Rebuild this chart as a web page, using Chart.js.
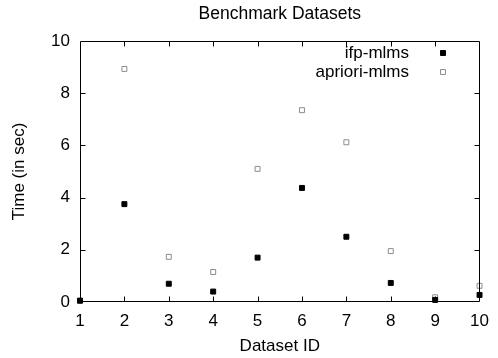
<!DOCTYPE html>
<html>
<head>
<meta charset="utf-8">
<script src="https://cdn.jsdelivr.net/npm/chart.js@4/dist/chart.umd.min.js"></script>
<style>
  html, body { margin: 0; padding: 0; background: #fff; }
  #wrap { width: 498px; height: 358px; }
</style>
</head>
<body>
<div id="wrap"><canvas id="c" width="498" height="358"></canvas></div>
<script>
const datasetIds = [1, 2, 3, 4, 5, 6, 7, 8, 9, 10];
const ifpMlms = [0.05, 3.75, 0.7, 0.4, 1.7, 4.37, 2.5, 0.73, 0.08, 0.27];
const aprioriMlms = [0.05, 8.93, 1.73, 1.15, 5.1, 7.35, 6.12, 1.95, 0.18, 0.62];
const xTicks = [1, 2, 3, 4, 5, 6, 7, 8, 9, 10];
const yTicks = [0, 2, 4, 6, 8, 10];
const titleText = 'Benchmark Datasets';
const xTitle = 'Dataset ID';
const yTitle = 'Time (in sec)';

const FONT = '"Liberation Sans", Arial, Helvetica, sans-serif';

function toPoints(ys) { return datasetIds.map((x, i) => ({ x: x, y: ys[i] })); }

const framePlugin = {
  id: 'frame',
  afterDraw(chart) {
    const ctx = chart.ctx;
    const a = chart.chartArea;
    const xs = chart.scales.x, ys = chart.scales.y;
    ctx.save();
    // title
    ctx.fillStyle = '#000';
    ctx.font = '17.5px ' + FONT;
    ctx.textAlign = 'center';
    ctx.textBaseline = 'middle';
    ctx.fillText(titleText, (a.left + a.right) / 2, 14);
    // frame
    const L = Math.round(a.left) + 0.5, T = Math.round(a.top) + 0.5;
    const R = Math.round(a.right) - 0.5, B = Math.round(a.bottom) - 0.5;
    ctx.strokeStyle = '#000';
    ctx.lineWidth = 1;
    ctx.beginPath();
    ctx.rect(L, T, R - L, B - T);
    ctx.stroke();
    // inner ticks (skip those lying on the frame)
    const tl = 5;
    ctx.beginPath();
    xTicks.forEach(v => {
      if (v === xs.min || v === xs.max) return;
      const px = Math.round(xs.getPixelForValue(v)) + 0.5;
      ctx.moveTo(px, B); ctx.lineTo(px, B - tl);
      ctx.moveTo(px, T); ctx.lineTo(px, T + tl);
    });
    yTicks.forEach(v => {
      if (v === ys.min || v === ys.max) return;
      const py = Math.round(ys.getPixelForValue(v)) + 0.5;
      ctx.moveTo(L, py); ctx.lineTo(L + tl, py);
      ctx.moveTo(R, py); ctx.lineTo(R - tl, py);
    });
    ctx.stroke();
    // legend
    ctx.font = '17px ' + FONT;
    ctx.textAlign = 'right';
    ctx.textBaseline = 'middle';
    chart.data.datasets.forEach((ds, i) => {
      const y = 53 + i * 19;
      ctx.fillStyle = '#000';
      ctx.fillText(ds.label, 409, y);
      const s = ds.pointRadius * Math.SQRT1_2;
      ctx.beginPath();
      ctx.rect(443 - s, y - s, 2 * s, 2 * s);
      ctx.fillStyle = ds.pointBackgroundColor;
      ctx.fill();
      ctx.strokeStyle = ds.pointBorderColor;
      ctx.lineWidth = ds.borderWidth;
      ctx.stroke();
    });
    ctx.restore();
  }
};

new Chart(document.getElementById('c'), {
  type: 'scatter',
  data: {
    datasets: [
      {
        label: 'ifp-mlms',
        data: toPoints(ifpMlms),
        pointStyle: 'rect',
        pointRadius: 3.5,
        borderWidth: 1,
        pointBackgroundColor: '#000',
        pointBorderColor: '#000',
        backgroundColor: '#000',
        borderColor: '#000',
        clip: false
      },
      {
        label: 'apriori-mlms',
        data: toPoints(aprioriMlms),
        pointStyle: 'rect',
        pointRadius: 3.5,
        borderWidth: 1,
        pointBackgroundColor: 'rgba(0,0,0,0)',
        pointBorderColor: '#8c8c8c',
        backgroundColor: 'rgba(0,0,0,0)',
        borderColor: '#8c8c8c',
        clip: false
      }
    ]
  },
  options: {
    responsive: false,
    animation: false,
    devicePixelRatio: 1,
    layout: { padding: { top: 41, right: 11, left: 0, bottom: 0 } },
    plugins: {
      legend: { display: false },
      title: { display: false },
      tooltip: { enabled: false }
    },
    scales: {
      x: {
        type: 'linear',
        min: 1, max: 10,
        afterFit(s) { s.height = 56; },
        afterBuildTicks(s) { s.ticks = xTicks.map(v => ({ value: v })); },
        grid: { display: false, drawTicks: false },
        border: { display: false },
        ticks: { color: '#000', font: { family: FONT, size: 17 }, padding: 9, maxRotation: 0, autoSkip: false },
        title: { display: true, text: xTitle, color: '#000', font: { family: FONT, size: 17, lineHeight: 1 }, padding: { top: 0, bottom: 3 } }
      },
      y: {
        min: 0, max: 10,
        afterFit(s) { s.width = 80; },
        afterBuildTicks(s) { s.ticks = yTicks.map(v => ({ value: v })); },
        grid: { display: false, drawTicks: false },
        border: { display: false },
        ticks: { color: '#000', font: { family: FONT, size: 17 }, padding: 10 },
        title: { display: true, text: yTitle, color: '#000', font: { family: FONT, size: 17, lineHeight: 1 }, padding: { top: 11, bottom: 0 } }
      }
    }
  },
  plugins: [framePlugin]
});
</script>
</body>
</html>
